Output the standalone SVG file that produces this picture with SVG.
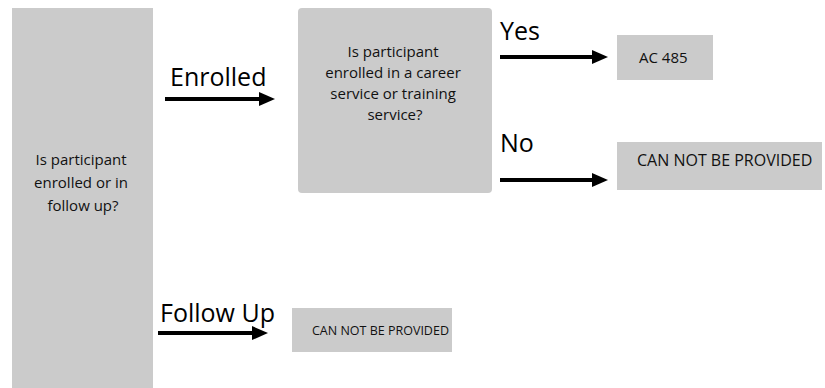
<svg xmlns="http://www.w3.org/2000/svg" width="825" height="388" viewBox="0 0 825 388">
  <style>
    .box { fill: #cbcbcb; }
    .txt { font-family: "Open Sans", "Liberation Sans", sans-serif; fill: #111; }
    .lbl { font-family: "Open Sans", "Liberation Sans", sans-serif; fill: #000; font-size: 25px; }
    .arrow { stroke: #000; stroke-width: 4; fill: none; marker-end: url(#head); }
  </style>
  <defs>
    <marker id="head" markerUnits="userSpaceOnUse" markerWidth="16" markerHeight="14" refX="1" refY="7" orient="auto">
      <path d="M0,0 L16,7 L0,14 Z" fill="#000"/>
    </marker>
  </defs>
  <rect width="825" height="388" fill="#fff"/>

  <!-- decision: enrolled or follow up -->
  <g id="q-status">
    <rect class="box" x="12" y="8" width="141" height="380"/>
    <text class="txt" font-size="15" text-anchor="middle">
      <tspan x="83" y="165">Is participant</tspan>
      <tspan x="83" y="188">enrolled or in</tspan>
      <tspan x="83" y="211">follow up?</tspan>
    </text>
  </g>

  <!-- decision: career or training service -->
  <g id="q-service">
    <rect class="box" x="298" y="8" width="194" height="185" rx="4"/>
    <text class="txt" font-size="15" text-anchor="middle">
      <tspan x="395" y="57">Is participant</tspan>
      <tspan x="395" y="78">enrolled in a career</tspan>
      <tspan x="395" y="99">service or training</tspan>
      <tspan x="395" y="120">service?</tspan>
    </text>
  </g>

  <!-- outcome: code -->
  <g id="r-ac485">
    <rect class="box" x="617" y="35" width="96" height="45"/>
    <text class="txt" font-size="15" x="639" y="63">AC 485</text>
  </g>

  <!-- outcome: not provided (enrolled, no service) -->
  <g id="r-none-enrolled">
    <rect class="box" x="617" y="142" width="205" height="48"/>
    <text class="txt" font-size="16" x="637" y="166">CAN NOT BE PROVIDED</text>
  </g>

  <!-- outcome: not provided (follow up) -->
  <g id="r-none-followup">
    <rect class="box" x="292" y="308" width="160" height="44"/>
    <text class="txt" font-size="12.5" x="312" y="335">CAN NOT BE PROVIDED</text>
  </g>

  <!-- connectors -->
  <g id="connectors">
    <path class="arrow" d="M165,99 H260"/>
    <text class="lbl" x="170" y="86">Enrolled</text>

    <path class="arrow" d="M500,57 H593"/>
    <text class="lbl" x="500" y="40">Yes</text>

    <path class="arrow" d="M500,180 H593"/>
    <text class="lbl" x="500" y="152">No</text>

    <path class="arrow" d="M158,333 H253"/>
    <text class="lbl" x="160" y="322">Follow Up</text>
  </g>
</svg>
